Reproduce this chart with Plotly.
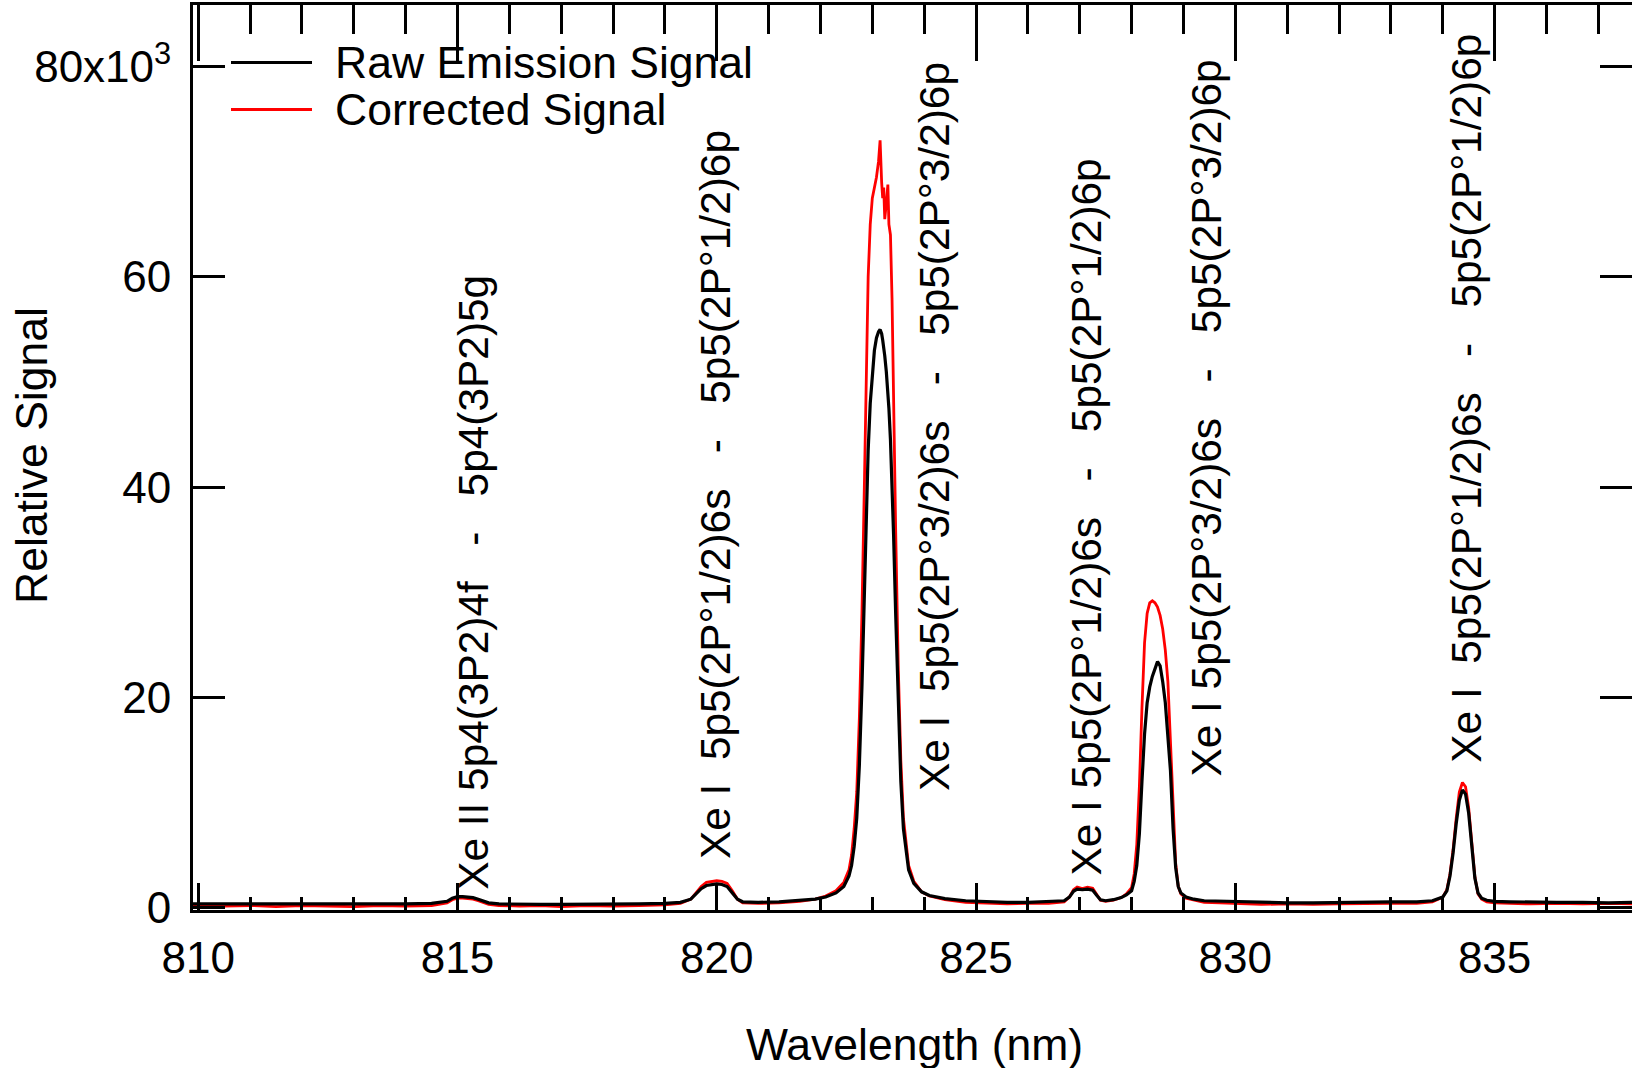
import numpy as np
import plotly.graph_objects as go

# ---------------- data (signal values in units of 10^3) ----------------
wavelength_nm = [
    809.9, 810.5, 811.0, 811.5, 812.0, 812.5, 813.0, 813.5, 814.0, 814.5,
    814.8, 814.9, 815.0, 815.1, 815.2, 815.3, 815.4, 815.5, 815.6, 815.8,
    816.2, 816.6, 817.0, 817.5, 818.0, 818.5, 819.0, 819.3, 819.5, 819.6,
    819.7, 819.8, 819.9, 820.0, 820.1, 820.2, 820.3, 820.4, 820.5, 820.8,
    821.2, 821.6, 821.9, 822.1, 822.3, 822.45, 822.55, 822.6, 822.65, 822.7,
    822.75, 822.8, 822.85, 822.88, 822.92, 822.96, 823.0, 823.04, 823.08, 823.12,
    823.15, 823.18, 823.2, 823.22, 823.24, 823.27, 823.3, 823.32, 823.35, 823.38,
    823.41, 823.45, 823.5, 823.55, 823.6, 823.7, 823.8, 823.95, 824.1, 824.4,
    824.8, 825.2, 825.6, 826.0, 826.4, 826.7, 826.8, 826.88, 826.95, 827.05,
    827.15, 827.25, 827.33, 827.4, 827.5, 827.65, 827.8, 827.9, 828.0, 828.05,
    828.1, 828.15, 828.2, 828.25, 828.3, 828.35, 828.4, 828.45, 828.5, 828.55,
    828.6, 828.65, 828.7, 828.75, 828.8, 828.85, 828.9, 828.95, 829.05, 829.2,
    829.4, 829.7, 830.0, 830.5, 831.0, 831.5, 832.0, 832.5, 833.0, 833.5,
    833.8, 834.0, 834.08, 834.14, 834.2, 834.26, 834.32, 834.38, 834.44, 834.5,
    834.56, 834.62, 834.68, 834.75, 834.85, 835.0, 835.3, 835.7, 836.2, 836.7,
    837.2, 837.7,
]

raw_signal_k = [
    0.35, 0.35, 0.30, 0.35, 0.30, 0.30, 0.35, 0.30, 0.35, 0.40,
    0.60, 0.90, 1.05, 1.05, 1.00, 0.95, 0.80, 0.60, 0.45, 0.35,
    0.30, 0.30, 0.30, 0.30, 0.30, 0.35, 0.40, 0.50, 0.80, 1.30,
    1.80, 2.10, 2.20, 2.25, 2.20, 2.00, 1.40, 0.80, 0.55, 0.50,
    0.55, 0.65, 0.80, 1.00, 1.40, 2.00, 3.00, 4.00, 5.80, 8.50,
    13.5, 21.0, 31.0, 37.0, 43.5, 48.0, 51.0, 53.0, 54.2, 54.8,
    55.0, 54.6, 54.0, 53.3, 52.5, 51.0, 49.0, 47.5, 44.5, 40.5,
    35.5, 28.0, 19.0, 12.0, 7.5, 3.6, 2.3, 1.5, 1.15, 0.85,
    0.65, 0.55, 0.50, 0.50, 0.55, 0.65, 1.00, 1.55, 1.75, 1.70,
    1.75, 1.65, 1.15, 0.75, 0.65, 0.75, 0.95, 1.20, 1.60, 2.50,
    4.0, 7.0, 12.0, 16.5, 19.5, 21.0, 22.0, 22.8, 23.4, 23.0,
    21.5, 19.5, 16.5, 13.0, 7.5, 3.8, 2.0, 1.4, 1.0, 0.80,
    0.65, 0.60, 0.55, 0.50, 0.45, 0.45, 0.50, 0.50, 0.55, 0.55,
    0.65, 1.00, 1.60, 3.00, 5.20, 8.00, 10.2, 11.2, 10.8, 9.00,
    5.50, 2.80, 1.40, 0.90, 0.70, 0.60, 0.55, 0.50, 0.50, 0.50,
    0.45, 0.50,
]

corrected_signal_k = [
    0.20, 0.15, 0.20, 0.10, 0.20, 0.15, 0.10, 0.20, 0.15, 0.20,
    0.45, 0.75, 0.90, 0.90, 0.85, 0.80, 0.65, 0.45, 0.30, 0.20,
    0.15, 0.20, 0.10, 0.20, 0.15, 0.20, 0.25, 0.40, 0.80, 1.40,
    2.00, 2.40, 2.50, 2.55, 2.50, 2.30, 1.60, 0.80, 0.45, 0.40,
    0.45, 0.60, 0.80, 1.10, 1.60, 2.40, 3.60, 5.00, 7.50, 11.0,
    18.0, 28.0, 41.0, 50.0, 60.0, 65.0, 67.5, 68.5, 69.5, 71.0,
    73.0, 69.0, 67.5, 68.5, 65.5, 67.0, 68.8, 65.0, 64.0, 58.0,
    48.0, 36.0, 23.0, 14.0, 8.5, 4.0, 2.5, 1.5, 1.10, 0.75,
    0.50, 0.40, 0.35, 0.40, 0.40, 0.55, 1.00, 1.70, 1.95, 1.80,
    1.95, 1.85, 1.20, 0.70, 0.60, 0.70, 0.95, 1.30, 1.90, 3.20,
    6.0, 11.5, 19.0, 25.2, 28.0, 29.0, 29.2, 29.0, 28.6, 27.8,
    26.5, 24.5, 21.5, 15.5, 8.5, 4.2, 2.0, 1.3, 0.90, 0.70,
    0.50, 0.45, 0.40, 0.30, 0.35, 0.30, 0.35, 0.40, 0.40, 0.40,
    0.55, 1.00, 1.70, 3.20, 5.50, 8.50, 11.0, 11.9, 11.5, 9.50,
    5.80, 2.90, 1.30, 0.80, 0.55, 0.45, 0.40, 0.35, 0.40, 0.35,
    0.40, 0.35,
]

series_names = ["Raw Emission Signal", "Corrected Signal"]

x_tick_values = [810, 815, 820, 825, 830, 835]
y_tick_values_k = [0, 20, 40, 60, 80]
y_tick_labels = ["0", "20", "40", "60", "80x10<sup>3</sup>"]

x_title = "Wavelength (nm)"
y_title = "Relative Signal"

NB = "\u00a0"
line_labels = [
    "Xe II 5p4(3P2)4f" + NB * 3 + "-" + NB * 3 + "5p4(3P2)5g",
    "Xe I" + NB * 2 + "5p5(2P°1/2)6s" + NB * 3 + "-" + NB * 3 + "5p5(2P°1/2)6p",
    "Xe I" + NB * 2 + "5p5(2P°3/2)6s" + NB * 3 + "-" + NB * 3 + "5p5(2P°3/2)6p",
    "Xe I 5p5(2P°1/2)6s" + NB * 3 + "-" + NB * 3 + "5p5(2P°1/2)6p",
    "Xe I 5p5(2P°3/2)6s" + NB * 3 + "-" + NB * 3 + "5p5(2P°3/2)6p",
    "Xe I" + NB * 2 + "5p5(2P°1/2)6s" + NB * 3 + "-" + NB * 3 + "5p5(2P°1/2)6p",
]
# anchor of each rotated label (wavelength, signal in 10^3 at the label's lower end)
label_x_nm = [815.31, 819.99, 824.20, 827.14, 829.45, 834.46]
label_y_k = [1.5, 4.4, 10.9, 2.9, 12.3, 13.6]

# ---------------- figure ----------------
W, H = 1632, 1068
ML, MR, MT, MB = 193, 0, 5, 158
FONT = "Liberation Sans, Arial, sans-serif"
TICK_SIZE = 44
TITLE_SIZE = 44.5

wl = np.array(wavelength_nm)
raw = np.array(raw_signal_k) * 1000.0
cor = np.array(corrected_signal_k) * 1000.0

fig = go.Figure()
fig.add_trace(go.Scatter(x=wl, y=cor, mode="lines", name=series_names[1],
                         line=dict(color="#ff0000", width=2.8), showlegend=False))
fig.add_trace(go.Scatter(x=wl, y=raw, mode="lines", name=series_names[0],
                         line=dict(color="#000000", width=3.2), showlegend=False))
# invisible trace so the top mirror axis is rendered
fig.add_trace(go.Scatter(x=wl, y=raw, mode="lines", xaxis="x2", opacity=0,
                         line=dict(width=0), hoverinfo="skip", showlegend=False))

x_range = [809.9, 837.65]
y_range = [-230, 85880]

fig.update_layout(
    width=W, height=H, autosize=False,
    margin=dict(l=ML, r=MR, t=MT, b=MB, pad=0),
    paper_bgcolor="white", plot_bgcolor="white",
    font=dict(family=FONT, size=TICK_SIZE, color="black"),
    xaxis=dict(
        range=x_range, showgrid=False, zeroline=False, automargin=False,
        showline=True, linecolor="black", linewidth=3,
        ticks="inside", ticklen=27, tickwidth=2.5, tickcolor="black",
        tickvals=x_tick_values, tickfont=dict(size=TICK_SIZE, family=FONT),
        ticklabelstandoff=7,
        minor=dict(dtick=1, ticks="inside", ticklen=13, tickwidth=2.5, tickcolor="black", showgrid=False),
    ),
    xaxis2=dict(
        range=x_range, overlaying="x", side="top", anchor="y", automargin=False,
        showgrid=False, zeroline=False,
        showline=True, linecolor="black", linewidth=3,
        ticks="inside", ticklen=56, tickwidth=2.5, tickcolor="black",
        tickvals=x_tick_values, showticklabels=False,
        minor=dict(dtick=1, ticks="inside", ticklen=29, tickwidth=2.5, tickcolor="black", showgrid=False),
    ),
    yaxis=dict(
        range=y_range, showgrid=False, zeroline=False, automargin=False,
        showline=True, linecolor="black", linewidth=3, mirror="ticks",
        ticks="inside", ticklen=32, tickwidth=2.5, tickcolor="black",
        tickvals=[v * 1000 for v in y_tick_values_k], ticktext=y_tick_labels,
        tickfont=dict(size=TICK_SIZE, family=FONT), ticklabelstandoff=10,
    ),
)

pw = W - ML - MR
ph = H - MT - MB
def px_to_paper(px, py):
    return (px - ML) / pw, (H - MB - py) / ph

# axis titles
tx, ty = px_to_paper(914, 1044)
fig.add_annotation(xref="paper", yref="paper", x=tx, y=ty, text=x_title, showarrow=False,
                   xanchor="center", yanchor="middle", font=dict(size=TITLE_SIZE, family=FONT, color="black"))
tx, ty = px_to_paper(31, 456)
fig.add_annotation(xref="paper", yref="paper", x=tx, y=ty, text=y_title, showarrow=False, textangle=-90,
                   xanchor="center", yanchor="middle", font=dict(size=TITLE_SIZE, family=FONT, color="black"))

for txt, xv, yv in zip(line_labels, label_x_nm, label_y_k):
    fig.add_annotation(x=xv, y=yv * 1000, xref="x", yref="y", text=txt,
                       textangle=-90, showarrow=False, xanchor="center", yanchor="bottom",
                       font=dict(size=42.4, family=FONT, color="black"))

# legend drawn with long line samples as in the reference
legend_colors = ["#000000", "#ff0000"]
legend_rows_py = [62.5, 109.5]
for name, col, py in zip(series_names, legend_colors, legend_rows_py):
    x0, y0 = px_to_paper(231, py)
    x1, _ = px_to_paper(312, py)
    fig.add_shape(type="line", xref="paper", yref="paper", x0=x0, x1=x1, y0=y0, y1=y0,
                  line=dict(color=col, width=3))
    tx, _ = px_to_paper(333, py)
    fig.add_annotation(xref="paper", yref="paper", x=tx, y=y0, text=name, showarrow=False,
                       xanchor="left", yanchor="middle", font=dict(size=TITLE_SIZE, family=FONT, color="black"))

fig.write_html("out.html", config={"displayModeBar": False},
               post_script="document.body.style.margin='0';document.body.style.overflow='hidden';")
